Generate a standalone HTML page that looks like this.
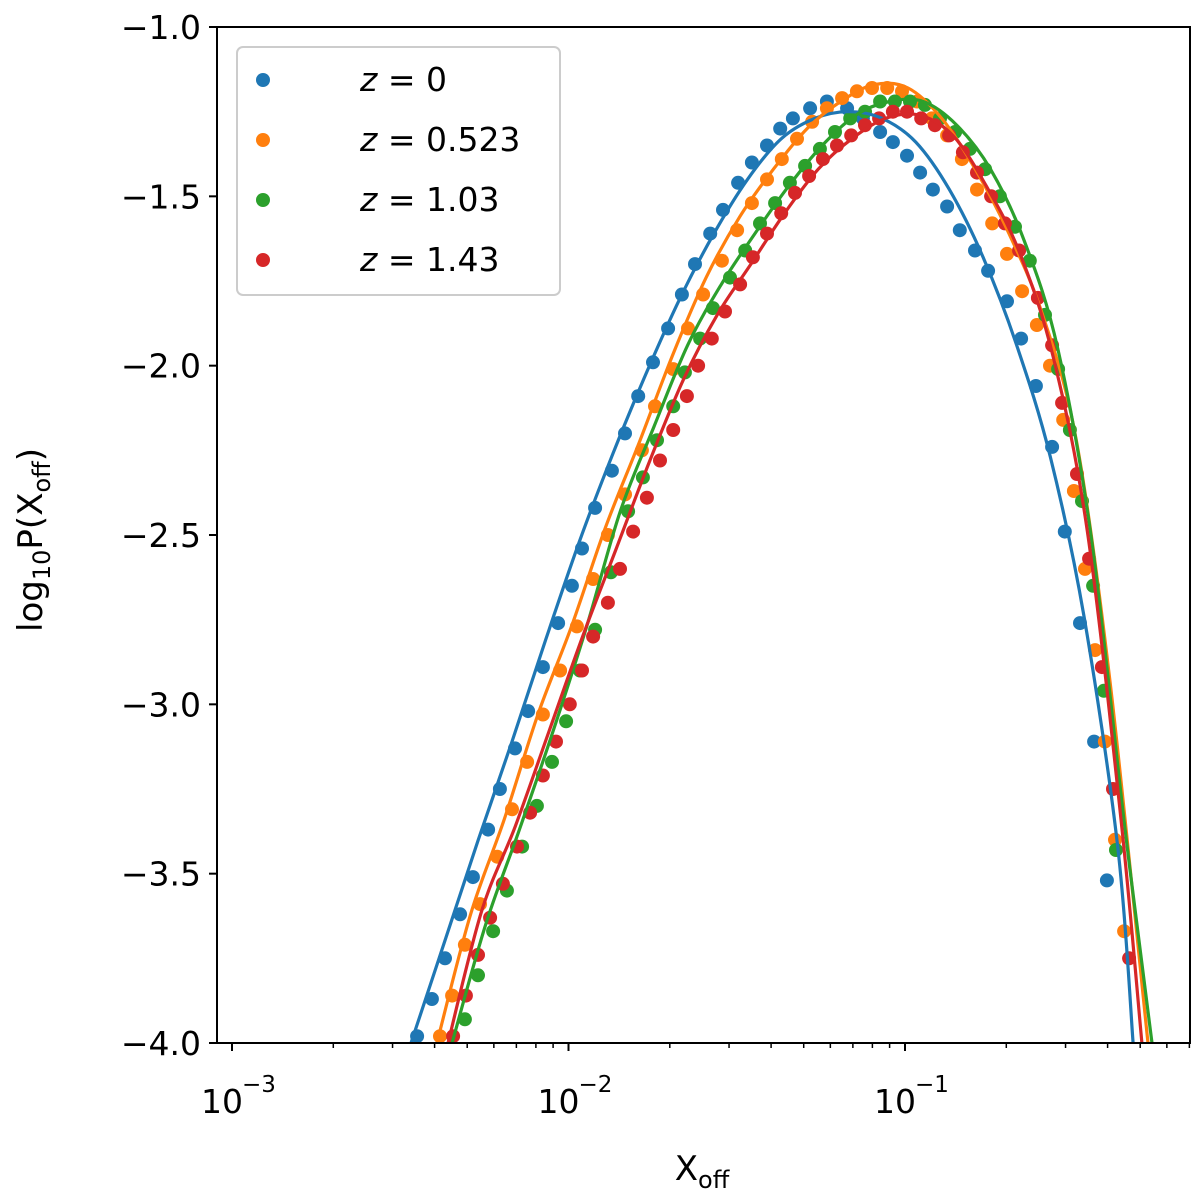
<!DOCTYPE html>
<html><head><meta charset="utf-8">
<style>
html,body{margin:0;padding:0;background:#fff;}
svg{display:block;font-family:"DejaVu Sans","Liberation Sans",sans-serif;}
</style></head>
<body>
<svg id="chart" width="1200" height="1199" viewBox="0 0 1200 1199" xmlns="http://www.w3.org/2000/svg">
<defs><clipPath id="plotclip"><rect x="217" y="27" width="973" height="1016"/></clipPath></defs>
<rect x="0" y="0" width="1200" height="1199" fill="#fff"/>
<g id="dots" clip-path="url(#plotclip)"></g>
<g id="lines" clip-path="url(#plotclip)"></g>
<rect x="217" y="27" width="973" height="1016" fill="none" stroke="#000" stroke-width="2"/>
<g id="axes"></g>
<text x="702" y="1180" font-size="34" text-anchor="middle">X<tspan font-size="24" dy="8">off</tspan></text>
<text transform="translate(42,540) rotate(-90)" font-size="34" text-anchor="middle">log<tspan font-size="24" dy="8">10</tspan><tspan dy="-8">P(X</tspan><tspan font-size="24" dy="8">off</tspan><tspan dy="-8">)</tspan></text>
<g id="legend">
<rect x="237" y="47" width="323" height="248" rx="6" fill="#fff" fill-opacity="0.8" stroke="#ccc" stroke-width="2"/>
</g>
</svg>
<script>
// ---- data ----
const seriesLabels = ["0", "0.523", "1.03", "1.43"];
const seriesColors = ["#1f77b4", "#ff7f0e", "#2ca02c", "#d62728"];

const dotsX0 = [-2.450,-2.406,-2.367,-2.322,-2.284,-2.239,-2.204,-2.159,-2.120,-2.076,-2.031,-1.990,-1.960,-1.921,-1.871,-1.832,-1.793,-1.749,-1.704,-1.663,-1.624,-1.579,-1.541,-1.496,-1.455,-1.410,-1.371,-1.333,-1.282,-1.232,-1.172,-1.125,-1.074,-1.036,-0.994,-0.955,-0.917,-0.875,-0.837,-0.792,-0.753,-0.697,-0.655,-0.611,-0.563,-0.525,-0.480,-0.438,-0.400];
const dotsY0 = [-3.98,-3.87,-3.75,-3.62,-3.51,-3.37,-3.25,-3.13,-3.02,-2.89,-2.76,-2.65,-2.54,-2.42,-2.31,-2.20,-2.09,-1.99,-1.89,-1.79,-1.70,-1.61,-1.54,-1.46,-1.40,-1.35,-1.30,-1.27,-1.24,-1.22,-1.24,-1.27,-1.31,-1.34,-1.38,-1.43,-1.48,-1.53,-1.60,-1.66,-1.72,-1.81,-1.92,-2.06,-2.24,-2.49,-2.76,-3.11,-3.52];

const dotsX1 = [-2.382,-2.346,-2.308,-2.263,-2.212,-2.168,-2.123,-2.076,-2.025,-1.975,-1.927,-1.883,-1.832,-1.782,-1.743,-1.689,-1.645,-1.600,-1.544,-1.499,-1.455,-1.410,-1.366,-1.321,-1.276,-1.232,-1.187,-1.143,-1.098,-1.053,-1.009,-0.964,-0.920,-0.875,-0.831,-0.786,-0.741,-0.697,-0.652,-0.608,-0.569,-0.530,-0.498,-0.465,-0.435,-0.406,-0.376,-0.349];
const dotsY1 = [-3.98,-3.86,-3.71,-3.59,-3.45,-3.31,-3.17,-3.03,-2.90,-2.77,-2.63,-2.50,-2.38,-2.25,-2.12,-2.01,-1.89,-1.79,-1.69,-1.60,-1.52,-1.45,-1.39,-1.33,-1.28,-1.24,-1.21,-1.19,-1.18,-1.18,-1.19,-1.22,-1.27,-1.32,-1.39,-1.48,-1.58,-1.67,-1.78,-1.88,-2.00,-2.16,-2.37,-2.60,-2.84,-3.11,-3.40,-3.67];

const dotsX2 = [-2.308,-2.269,-2.224,-2.183,-2.138,-2.094,-2.049,-2.007,-1.966,-1.921,-1.874,-1.823,-1.779,-1.737,-1.689,-1.654,-1.609,-1.571,-1.520,-1.475,-1.431,-1.386,-1.342,-1.297,-1.253,-1.208,-1.163,-1.119,-1.074,-1.030,-0.985,-0.941,-0.896,-0.851,-0.807,-0.762,-0.718,-0.673,-0.629,-0.584,-0.545,-0.510,-0.474,-0.441,-0.409,-0.373];
const dotsY2 = [-3.93,-3.80,-3.67,-3.55,-3.42,-3.30,-3.17,-3.05,-2.90,-2.78,-2.61,-2.43,-2.33,-2.22,-2.12,-2.02,-1.92,-1.83,-1.74,-1.66,-1.58,-1.52,-1.46,-1.41,-1.36,-1.31,-1.27,-1.25,-1.22,-1.22,-1.22,-1.23,-1.27,-1.31,-1.36,-1.42,-1.50,-1.59,-1.69,-1.85,-2.01,-2.19,-2.40,-2.65,-2.96,-3.43];

const dotsX3 = [-2.343,-2.305,-2.269,-2.233,-2.195,-2.153,-2.114,-2.076,-2.037,-1.996,-1.960,-1.927,-1.883,-1.847,-1.808,-1.767,-1.728,-1.689,-1.648,-1.615,-1.574,-1.535,-1.490,-1.452,-1.410,-1.368,-1.327,-1.285,-1.244,-1.202,-1.160,-1.119,-1.077,-1.036,-0.994,-0.952,-0.911,-0.869,-0.828,-0.786,-0.744,-0.703,-0.661,-0.605,-0.563,-0.533,-0.489,-0.453,-0.415,-0.382,-0.334];
const dotsY3 = [-3.98,-3.86,-3.74,-3.63,-3.53,-3.42,-3.32,-3.21,-3.11,-3.00,-2.90,-2.80,-2.70,-2.60,-2.49,-2.39,-2.28,-2.19,-2.09,-2.00,-1.92,-1.84,-1.76,-1.68,-1.61,-1.55,-1.49,-1.44,-1.39,-1.35,-1.32,-1.29,-1.27,-1.25,-1.25,-1.27,-1.29,-1.32,-1.37,-1.43,-1.50,-1.58,-1.66,-1.80,-1.94,-2.11,-2.32,-2.57,-2.89,-3.25,-3.75];

const lineX0 = [-2.468,-2.368,-2.268,-2.168,-2.068,-1.968,-1.868,-1.768,-1.668,-1.568,-1.468,-1.368,-1.268,-1.168,-1.068,-0.968,-0.868,-0.768,-0.668,-0.568,-0.468,-0.368,-0.322];
const lineY0 = [-4.00,-3.70,-3.40,-3.11,-2.81,-2.52,-2.26,-2.02,-1.80,-1.61,-1.45,-1.33,-1.27,-1.25,-1.27,-1.34,-1.48,-1.68,-1.94,-2.27,-2.74,-3.42,-4.00];
const lineX1 = [-2.391,-2.291,-2.191,-2.091,-1.991,-1.891,-1.791,-1.691,-1.591,-1.491,-1.391,-1.291,-1.191,-1.091,-0.991,-0.891,-0.791,-0.691,-0.591,-0.491,-0.391,-0.278];
const lineY1 = [-4.00,-3.62,-3.34,-3.03,-2.77,-2.48,-2.23,-1.97,-1.74,-1.56,-1.42,-1.30,-1.22,-1.17,-1.18,-1.27,-1.42,-1.61,-1.85,-2.22,-2.93,-4.00];
const lineX2 = [-2.346,-2.246,-2.146,-2.046,-1.946,-1.846,-1.746,-1.646,-1.546,-1.446,-1.346,-1.246,-1.146,-1.046,-0.946,-0.846,-0.746,-0.646,-0.546,-0.446,-0.346,-0.266];
const lineY2 = [-4.00,-3.65,-3.37,-3.08,-2.77,-2.43,-2.18,-1.94,-1.76,-1.61,-1.47,-1.35,-1.26,-1.22,-1.22,-1.29,-1.42,-1.63,-1.95,-2.51,-3.37,-4.00];
const lineX3 = [-2.358,-2.258,-2.158,-2.058,-1.958,-1.858,-1.758,-1.658,-1.558,-1.458,-1.358,-1.258,-1.158,-1.058,-0.958,-0.858,-0.758,-0.658,-0.558,-0.458,-0.358,-0.296];
const lineY3 = [-4.00,-3.61,-3.36,-3.08,-2.80,-2.54,-2.28,-2.04,-1.85,-1.70,-1.55,-1.42,-1.33,-1.27,-1.26,-1.32,-1.47,-1.67,-1.98,-2.49,-3.34,-4.00];

const yTicks = [-4.0, -3.5, -3.0, -2.5, -2.0, -1.5, -1.0];
const yTickLabels = ["\u22124.0","\u22123.5","\u22123.0","\u22122.5","\u22122.0","\u22121.5","\u22121.0"];
const xMajorTicks = [-3, -2, -1];
const xTickExps = ["\u22123", "\u22122", "\u22121"];

// ---- axes functions ----
const PL = 217, PR = 1190, PT = 27, PB = 1043;
const X_LEFT = -3 - 15/336.5, X_RIGHT = -1 + 285/336.5;
function sx(lx){ return PL + (lx - X_LEFT) / (X_RIGHT - X_LEFT) * (PR - PL); }
function sy(v){ return PB - (v - (-4)) / 3 * (PB - PT); }

const NS = "http://www.w3.org/2000/svg";
function mk(tag, parent){ const e = document.createElementNS(NS, tag); parent.appendChild(e); return e; }

const dotsX = [dotsX0, dotsX1, dotsX2, dotsX3];
const dotsY = [dotsY0, dotsY1, dotsY2, dotsY3];
const linesX = [lineX0, lineX1, lineX2, lineX3];
const linesY = [lineY0, lineY1, lineY2, lineY3];

function smoothPath(pts){
  let d = "M" + pts[0][0].toFixed(1) + "," + pts[0][1].toFixed(1);
  for (let i = 0; i < pts.length - 1; i++){
    const p0 = pts[Math.max(0, i-1)], p1 = pts[i], p2 = pts[i+1], p3 = pts[Math.min(pts.length-1, i+2)];
    const c1x = p1[0] + (p2[0]-p0[0])/6, c1y = p1[1] + (p2[1]-p0[1])/6;
    const c2x = p2[0] - (p3[0]-p1[0])/6, c2y = p2[1] - (p3[1]-p1[1])/6;
    d += " C" + c1x.toFixed(1)+","+c1y.toFixed(1)+" "+c2x.toFixed(1)+","+c2y.toFixed(1)+" "+p2[0].toFixed(1)+","+p2[1].toFixed(1);
  }
  return d;
}

const gLines = document.getElementById("lines");
const gDots = document.getElementById("dots");
for (let s = 0; s < 4; s++){
  for (let i = 0; i < dotsX[s].length; i++){
    const c = mk("circle", gDots);
    
    
    c.setAttribute("cx", sx(dotsX[s][i]).toFixed(1));
    c.setAttribute("cy", sy(dotsY[s][i]).toFixed(1));
    c.setAttribute("r", "7");
    c.setAttribute("fill", seriesColors[s]);
  }
}
for (let s = 0; s < 4; s++){
  const pts = linesX[s].map((x, i) => [sx(x), sy(linesY[s][i])]);
  const p = mk("path", gLines);
  
  
  p.setAttribute("d", smoothPath(pts));
  p.setAttribute("fill", "none");
  p.setAttribute("stroke", seriesColors[s]);
  p.setAttribute("stroke-width", "3.2");
}

// axes
const gAx = document.getElementById("axes");
yTicks.forEach((v, i) => {
  const y = sy(v);
  const t = mk("line", gAx);
  
  
  t.setAttribute("x1", PL - 8); t.setAttribute("x2", PL); t.setAttribute("y1", y); t.setAttribute("y2", y);
  t.setAttribute("stroke", "#000"); t.setAttribute("stroke-width", "2");
  const l = mk("text", gAx);
  
  
  l.setAttribute("x", PL - 16); l.setAttribute("y", y + 12);
  l.setAttribute("font-size", "33"); l.setAttribute("text-anchor", "end");
  l.textContent = yTickLabels[i];
});
for (let dec = -4; dec <= -1; dec++){
  for (let m = 1; m <= 9; m++){
    const lx = dec + Math.log10(m);
    if (lx < X_LEFT - 1e-6 || lx > X_RIGHT) continue;
    const x = sx(lx);
    const t = mk("line", gAx);
    
    
    t.setAttribute("x1", x); t.setAttribute("x2", x); t.setAttribute("y1", PB); t.setAttribute("y2", PB + (m === 1 ? 8 : 5));
    t.setAttribute("stroke", "#000"); t.setAttribute("stroke-width", m === 1 ? "2" : "1.5");
  }
}
xMajorTicks.forEach((v, i) => {
  const x = sx(v);
  const l = mk("text", gAx);
  
  
  l.setAttribute("x", x - 10); l.setAttribute("y", 1113);
  l.setAttribute("font-size", "33"); l.setAttribute("text-anchor", "middle");
  l.textContent = "10";
  const e = mk("text", gAx);
  
  
  e.setAttribute("x", x + 10); e.setAttribute("y", 1092);
  e.setAttribute("font-size", "23"); e.setAttribute("text-anchor", "start");
  e.textContent = xTickExps[i];
});

// legend
const gLeg = document.getElementById("legend");
seriesLabels.forEach((lab, i) => {
  const y = 77 + 60 * i;
  const c = mk("circle", gLeg);
  
  
  c.setAttribute("cx", 263); c.setAttribute("cy", y + 3); c.setAttribute("r", "7");
  c.setAttribute("fill", seriesColors[i]);
  const t = mk("text", gLeg);
  
  
  t.setAttribute("x", 360); t.setAttribute("y", y + 14);
  t.setAttribute("font-size", "33");
  const z = mk("tspan", t); z.setAttribute("font-style", "italic"); z.textContent = "z";
  const r = mk("tspan", t); r.textContent = " = " + lab;
});
</script>
</body></html>
